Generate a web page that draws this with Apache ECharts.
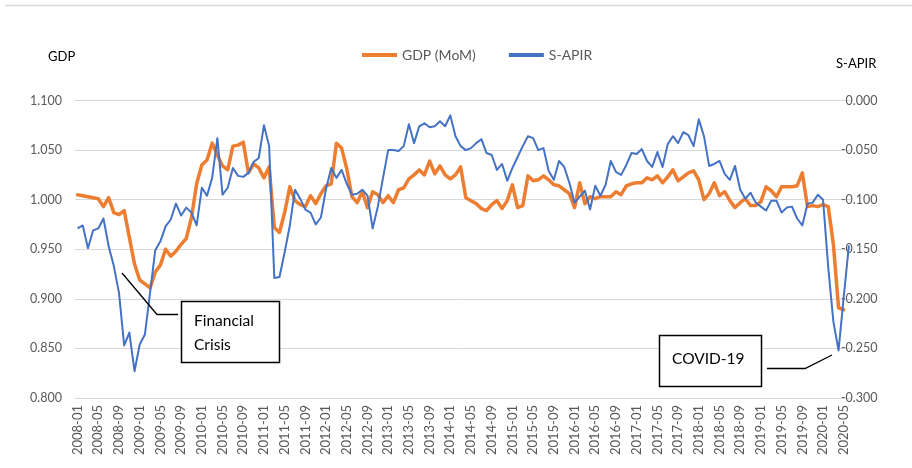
<!DOCTYPE html>
<html>
<head>
<meta charset="utf-8">
<script src="https://cdn.jsdelivr.net/npm/echarts@6/dist/echarts.min.js"></script>
<style>
  html, body { margin: 0; padding: 0; background: #ffffff; }
  #chart { width: 912px; height: 468px; }
</style>
</head>
<body>
<div id="chart"></div>
<script>
// ---- data ----
const startYear = 2008;
const endYear = 2020;
const endMonth = 6;
const categories = [];
for (let y = startYear; y <= endYear; y++) {
  for (let m = 1; m <= 12; m++) {
    if (y === endYear && m > endMonth) break;
    categories.push(y + '-' + (m < 10 ? '0' + m : '' + m));
  }
}

const gdpMoM = [
  1.005, 1.004, 1.003, 1.002, 1.001, 0.993, 1.002, 0.987, 0.985, 0.989,
  0.962, 0.935, 0.919, 0.915, 0.911, 0.927, 0.934, 0.950, 0.943, 0.948,
  0.955, 0.961, 0.982, 1.016, 1.035, 1.040, 1.057, 1.045, 1.034, 1.030,
  1.054, 1.055, 1.058, 1.027, 1.036, 1.032, 1.022, 1.033, 0.972, 0.967,
  0.987, 1.013, 0.999, 0.995, 0.993, 1.004, 0.996, 1.006, 1.014, 1.016,
  1.057, 1.052, 1.031, 1.003, 0.997, 1.008, 0.992, 1.008, 1.005, 0.997,
  1.004, 0.997, 1.010, 1.012, 1.021, 1.025, 1.030, 1.025, 1.039, 1.026,
  1.034, 1.025, 1.021, 1.025, 1.033, 1.002, 0.999, 0.996, 0.991, 0.989,
  0.995, 0.999, 0.991, 0.999, 1.015, 0.992, 0.994, 1.024, 1.019, 1.020,
  1.024, 1.020, 1.015, 1.014, 1.010, 1.006, 0.992, 1.017, 0.996, 1.003,
  1.001, 1.003, 1.003, 1.003, 1.008, 1.005, 1.014, 1.016, 1.017, 1.017,
  1.022, 1.020, 1.024, 1.017, 1.023, 1.030, 1.019, 1.023, 1.027, 1.029,
  1.020, 1.000, 1.006, 1.017, 1.004, 1.008, 0.999, 0.992, 0.997, 1.001,
  0.994, 0.994, 0.998, 1.013, 1.009, 1.003, 1.013, 1.013, 1.013, 1.014,
  1.027, 0.993, 0.994, 0.993, 0.995, 0.993, 0.955, 0.891, 0.889
];

const sApir = [
  -0.129, -0.126, -0.149, -0.131, -0.129, -0.119, -0.147, -0.167, -0.194, -0.247,
  -0.234, -0.273, -0.246, -0.236, -0.194, -0.151, -0.142, -0.127, -0.120, -0.104,
  -0.116, -0.108, -0.113, -0.126, -0.088, -0.096, -0.078, -0.038, -0.095, -0.088,
  -0.068, -0.076, -0.077, -0.073, -0.062, -0.058, -0.025, -0.046, -0.179, -0.178,
  -0.153, -0.126, -0.090, -0.099, -0.110, -0.113, -0.125, -0.118, -0.089, -0.068,
  -0.078, -0.070, -0.084, -0.095, -0.094, -0.090, -0.096, -0.129, -0.107, -0.078,
  -0.050, -0.050, -0.051, -0.046, -0.024, -0.043, -0.026, -0.023, -0.027, -0.026,
  -0.021, -0.026, -0.015, -0.036, -0.046, -0.050, -0.048, -0.043, -0.039, -0.053,
  -0.055, -0.070, -0.064, -0.081, -0.068, -0.057, -0.046, -0.036, -0.038, -0.050,
  -0.048, -0.071, -0.080, -0.061, -0.067, -0.083, -0.103, -0.097, -0.091, -0.110,
  -0.086, -0.096, -0.085, -0.061, -0.072, -0.075, -0.065, -0.053, -0.054, -0.049,
  -0.061, -0.067, -0.052, -0.067, -0.044, -0.036, -0.043, -0.032, -0.035, -0.046,
  -0.019, -0.036, -0.066, -0.064, -0.061, -0.074, -0.080, -0.066, -0.090, -0.099,
  -0.093, -0.103, -0.107, -0.111, -0.101, -0.101, -0.113, -0.108, -0.107, -0.119,
  -0.126, -0.104, -0.103, -0.095, -0.100, -0.168, -0.223, -0.252, -0.198, -0.146
];

const leftAxis = { min: 0.8, max: 1.1, step: 0.05 };
const rightAxis = { min: -0.3, max: 0, step: 0.05 };

// ---- chart ----
const FONT = 'Lato, "Noto Sans", sans-serif';
const chart = echarts.init(document.getElementById('chart'), null, { renderer: 'canvas' });
const fmt3 = v => (Math.abs(v) < 1e-9 ? 0 : v).toFixed(3);

chart.setOption({
  backgroundColor: '#ffffff',
  animation: false,
  textStyle: { fontFamily: FONT },
  legend: {
    left: 357,
    top: 43,
    itemWidth: 35,
    itemHeight: 4,
    itemGap: 33,
    icon: 'rect',
    textStyle: { color: '#595959', fontSize: 14, fontFamily: FONT },
    data: ['GDP (MoM)', 'S-APIR']
  },
  grid: { left: 75, right: 60.5, top: 100.5, bottom: 70, containLabel: false },
  xAxis: {
    type: 'category',
    data: categories,
    boundaryGap: true,
    axisLine: { show: true, lineStyle: { color: '#d9d9d9', width: 1 } },
    axisTick: { show: false },
    axisLabel: {
      interval: 3,
      rotate: 90,
      margin: 7,
      color: '#595959',
      fontSize: 13,
      fontFamily: FONT
    },
    splitLine: { show: false }
  },
  yAxis: [
    {
      type: 'value',
      min: leftAxis.min,
      max: leftAxis.max,
      interval: leftAxis.step,
      axisLine: { show: false },
      axisTick: { show: false },
      axisLabel: { formatter: fmt3, color: '#595959', fontSize: 12.5, margin: 13, fontFamily: FONT },
      splitLine: { show: true, lineStyle: { color: '#d9d9d9', width: 1 } }
    },
    {
      type: 'value',
      position: 'right',
      min: rightAxis.min,
      max: rightAxis.max,
      interval: rightAxis.step,
      axisLine: { show: false },
      axisTick: { show: false },
      axisLabel: { formatter: fmt3, color: '#595959', fontSize: 12.5, margin: 26, align: 'right', fontFamily: FONT },
      splitLine: { show: false }
    }
  ],
  series: [
    {
      name: 'GDP (MoM)',
      type: 'line',
      yAxisIndex: 0,
      data: gdpMoM,
      showSymbol: false,
      symbol: 'none',
      lineStyle: { color: '#ED7D31', width: 3.5, join: 'round', cap: 'round' },
      itemStyle: { color: '#ED7D31' },
      z: 2
    },
    {
      name: 'S-APIR',
      type: 'line',
      yAxisIndex: 1,
      data: sApir,
      showSymbol: false,
      symbol: 'none',
      lineStyle: { color: '#4472C4', width: 2, join: 'round' },
      itemStyle: { color: '#4472C4' },
      z: 3
    }
  ],
  graphic: [
    { type: 'line', shape: { x1: 5, y1: 5.5, x2: 912, y2: 5.5 }, style: { stroke: '#d9d9d9', lineWidth: 1.5 }, silent: true },
    { type: 'text', left: 48, top: 50, style: { text: 'GDP', font: '13px ' + FONT, fill: '#000000' } },
    { type: 'text', left: 836, top: 57, style: { text: 'S-APIR', font: '13px ' + FONT, fill: '#000000' } },
    { type: 'polyline', shape: { points: [[122, 273], [157, 314.5], [178, 314.5]] }, style: { stroke: '#000000', lineWidth: 1.3, fill: null }, z: 10 },
    { type: 'rect', shape: { x: 181.5, y: 301.5, width: 98, height: 61 }, style: { stroke: '#000000', lineWidth: 1.5, fill: '#ffffff' }, z: 10 },
    { type: 'text', x: 194, y: 309, style: { text: 'Financial\nCrisis', font: '15.5px ' + FONT, fill: '#000000', lineHeight: 24 }, z: 11 },
    { type: 'polyline', shape: { points: [[767, 368.5], [805, 368.5], [832, 355]] }, style: { stroke: '#000000', lineWidth: 1.3, fill: null }, z: 10 },
    { type: 'rect', shape: { x: 659.5, y: 335.5, width: 102, height: 51 }, style: { stroke: '#000000', lineWidth: 1.5, fill: '#ffffff' }, z: 10 },
    { type: 'text', x: 672, y: 351, style: { text: 'COVID-19', font: '15.5px ' + FONT, fill: '#000000' }, z: 11 }
  ]
});
</script>
</body>
</html>
